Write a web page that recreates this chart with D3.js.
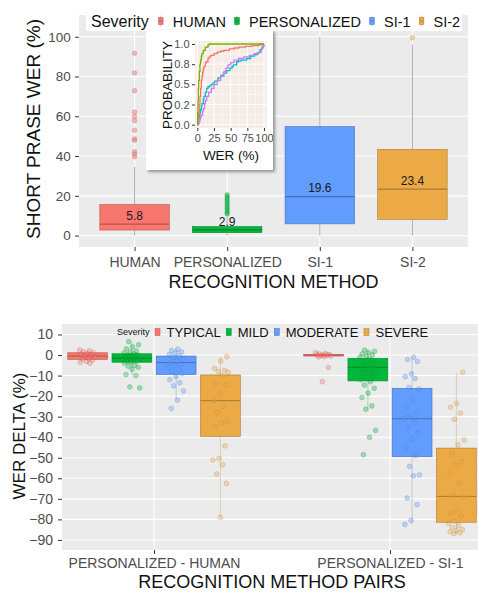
<!DOCTYPE html>
<html>
<head>
<meta charset="utf-8">
<script src="https://cdn.jsdelivr.net/npm/d3@7"></script>
<style>
body{margin:0;background:#fff;}
svg{display:block;font-family:"Liberation Sans",Arial,sans-serif;}
</style>
</head>
<body>
<svg id="chart" width="478" height="593"></svg>
<script>
// ---- top chart data ----
const methods = ["HUMAN", "PERSONALIZED", "SI-1", "SI-2"];
const methodColors = ["#F8766D", "#00B93A", "#619CFF", "#EBAA45"];
const werLow = [0, 0, 0, 0];
const werQ1 = [2.8, 1.5, 5.9, 8.2];
const werMedian = [5.8, 2.9, 19.6, 23.4];
const werQ3 = [15.6, 4.5, 54.8, 43.4];
const werHigh = [34.5, 9.5, 100, 96];
const humanOutliers = [91.7, 81.8, 72.9, 62.1, 59.9, 57.8, 53, 48.6, 47.9, 42.2, 41, 39.6];
const personalizedOutliers = [20.5, 19.5, 18.5, 17.5, 16.5, 15.5, 14.5, 13.5, 12.5, 11.5, 10.9];
const si1Outliers = [];
const si2Outliers = [99.5];
const werTicks = [0, 20, 40, 60, 80, 100];

// ---- inset ecdf data ([WER, probability] steps) ----
const ecdfColors = ["#F8766D", "#7CAE00", "#00BFC4", "#C77CFF"];
const ecdfHuman = [[0,0],[1,0.08],[2,0.15],[3,0.25],[4,0.35],[5,0.45],[6,0.55],[7,0.6],[8,0.65],[9,0.69],[10,0.72],[12,0.76],[13,0.78],[16,0.82],[18,0.84],[20,0.86],[25,0.88],[30,0.9],[35,0.91],[40,0.92],[48,0.94],[55,0.95],[62,0.96],[72,0.97],[82,0.98],[92,0.99],[95,1],[100,1]];
const ecdfPersonalized = [[0,0],[0.5,0.15],[1,0.3],[1.5,0.45],[2,0.55],[3,0.66],[4,0.75],[5,0.8],[6,0.85],[7,0.88],[9,0.92],[12,0.96],[16,0.99],[18,1],[100,1]];
const ecdfSi1 = [[0,0],[1,0.04],[2,0.08],[3,0.12],[4,0.15],[5,0.19],[6,0.23],[7,0.26],[9,0.32],[10,0.35],[12,0.4],[14,0.45],[16,0.47],[18,0.48],[21,0.5],[24,0.52],[26,0.54],[31,0.58],[35,0.61],[39,0.64],[44,0.67],[49,0.7],[52,0.72],[54,0.74],[59,0.78],[62,0.79],[66,0.8],[74,0.82],[80,0.85],[86,0.87],[90,0.89],[94,0.93],[97,0.96],[99,1],[100,1]];
const ecdfSi2 = [[0,0],[2,0.02],[3,0.04],[4,0.07],[5,0.1],[6,0.12],[8,0.17],[9,0.2],[11,0.26],[12,0.3],[14,0.35],[17,0.4],[21,0.45],[25,0.5],[30,0.55],[35,0.6],[40,0.66],[43,0.7],[46,0.74],[50,0.77],[55,0.8],[62,0.82],[70,0.84],[78,0.86],[85,0.88],[92,0.9],[96,0.94],[98,0.97],[100,1]];
const probTicks = [0, 0.25, 0.5, 0.75, 1];
const probLabels = ["0.0", "0.2", "0.5", "0.8", "1.0"];
const insetWerTicks = [0, 25, 50, 75, 100];

// ---- bottom chart data ----
const pairs = ["PERSONALIZED - HUMAN", "PERSONALIZED - SI-1"];
const severities = ["TYPICAL", "MILD", "MODERATE", "SEVERE"];
const severityColors = ["#F8766D", "#00B93A", "#619CFF", "#EBAA45"];
// [pair][severity]
const deltaLow = [[-4, -10, -22, -79], [-1, -26.4, -82.5, -87]];
const deltaQ1 = [[-2.1, -3.5, -9.5, -39.6], [-0.5, -12.6, -49.5, -81.4]];
const deltaMedian = [[-0.5, -1.5, -3.7, -22.2], [0, -6, -31, -68.8]];
const deltaQ3 = [[1.1, 0.6, -0.5, -9.7], [0.3, -1.6, -16.2, -45.3]];
const deltaHigh = [[2.4, 6.5, 2.8, -0.8], [1.2, 2.4, -1.1, -8.4]];
const humanTypical = [2.4, 2, 1.6, 1.2, 0.8, 0.4, 0, -0.5, -1, -1.5, -2, -2.5, -3.2, -3.6, -4];
const humanMild = [6.5, 5, 4, 3, 2, 1.5, 1, 0.5, 0, 0, -0.5, -1, -1, -1.5, -2, -2.5, -3, -3, -3.5, -4, -5, -5.5, -6, -7, -9.5, -10, -15.5, -16];
const humanModerate = [2.8, 2.2, 1.5, 1, 0.3, -0.5, -1, -2, -3, -3.7, -4.5, -5, -6, -7, -8, -9, -10.5, -12, -13.5, -15, -17.5, -22, -26];
const humanSevere = [-0.8, -2.9, -6.5, -7.5, -8, -8.5, -10, -13.7, -14.5, -19, -22, -25, -28, -32.4, -33, -34.8, -44.2, -50.3, -51, -53.4, -57.9, -62.5, -79];
const si1Typical = [1.2, 0.8, 0.5, 0.3, 0, 0, 0, -0.2, -0.5, -0.8, -1, -6.1, -13];
const si1Mild = [2.4, 1.8, 1.2, 0.6, 0, -0.5, -1, -2, -3, -4, -5, -5.5, -6, -6.5, -7, -8, -9, -10, -11, -12, -13, -14.6, -16.2, -18.6, -20.7, -24.8, -26.4, -36.7, -40, -48.5];
const si1Moderate = [-1.1, -2.2, -3.2, -9.2, -10.5, -11.5, -15.7, -16.5, -22, -25, -28, -30, -31, -33, -35, -38, -41, -45, -49, -54.2, -58.3, -58.8, -69.6, -72.8, -80.4, -82.5];
const si1Severe = [-8.4, -23.5, -25.4, -28.3, -31.2, -41.3, -43.7, -48, -52, -53.4, -57.1, -62.3, -68.4, -69, -75.2, -76.8, -78.4, -81, -82, -83, -84, -85, -85.5, -86, -86.5, -87];
const deltaPoints = [[humanTypical, humanMild, humanModerate, humanSevere], [si1Typical, si1Mild, si1Moderate, si1Severe]];
const deltaTicks = [10, 0, -10, -20, -30, -40, -50, -60, -70, -80, -90];

const svg = d3.select("#chart");
const dark = c => d3.color(c).darker(0.9).formatHex();

svg.append("defs").append("filter").attr("id", "shadow")
	.attr("x", "-10%").attr("y", "-10%").attr("width", "130%").attr("height", "130%")
	.append("feDropShadow").attr("dx", 2).attr("dy", 2).attr("stdDeviation", 1.4)
	.attr("flood-color", "#555").attr("flood-opacity", 0.6);
svg.select("defs").append("clipPath").attr("id", "insetClip")
	.append("rect").attr("x", 146).attr("y", 30).attr("width", 127).attr("height", 140);

function styleAxis(g, size) {
	g.select(".domain").remove();
	g.selectAll(".tick line").attr("stroke", "#333").attr("stroke-width", 1);
	g.selectAll(".tick text").attr("fill", "#4d4d4d").style("font-size", size + "px").attr("font-family", null);
}

// ================= TOP CHART =================
const pTop = {left: 79, right: 468, top: 15, bottom: 247};
const xTop = d3.scalePoint().domain(methods).range([pTop.left, pTop.right]).padding(0.6);
const yTop = d3.scaleLinear().domain([-5.73, 110.94]).range([pTop.bottom, pTop.top]);
const bwTop = xTop.step() * 0.75;

const gTop = svg.append("g");
gTop.append("rect").attr("x", pTop.left).attr("y", pTop.top)
	.attr("width", pTop.right - pTop.left).attr("height", pTop.bottom - pTop.top).attr("fill", "#EBEBEB");
gTop.selectAll(".hgrid").data(werTicks).enter().append("line")
	.attr("x1", pTop.left).attr("x2", pTop.right)
	.attr("y1", d => yTop(d)).attr("y2", d => yTop(d))
	.attr("stroke", "#fff").attr("stroke-width", 1.1);
gTop.selectAll(".vgrid").data(methods).enter().append("line")
	.attr("x1", d => xTop(d)).attr("x2", d => xTop(d))
	.attr("y1", pTop.top).attr("y2", pTop.bottom)
	.attr("stroke", "#fff").attr("stroke-width", 1.1);

const topBoxes = gTop.selectAll(".box").data(methods).enter().append("g");
topBoxes.append("line")
	.attr("x1", d => xTop(d)).attr("x2", d => xTop(d))
	.attr("y1", (d, i) => yTop(werQ3[i])).attr("y2", (d, i) => yTop(werHigh[i]))
	.attr("stroke", "#a6a6a6").attr("stroke-width", 0.9);
topBoxes.append("line")
	.attr("x1", d => xTop(d)).attr("x2", d => xTop(d))
	.attr("y1", (d, i) => yTop(werQ1[i])).attr("y2", (d, i) => yTop(werLow[i]))
	.attr("stroke", "#a6a6a6").attr("stroke-width", 0.9);
topBoxes.append("rect")
	.attr("x", d => xTop(d) - bwTop / 2).attr("width", bwTop)
	.attr("y", (d, i) => yTop(werQ3[i]))
	.attr("height", (d, i) => yTop(werQ1[i]) - yTop(werQ3[i]))
	.attr("fill", (d, i) => methodColors[i])
	.attr("stroke", (d, i) => dark(methodColors[i])).attr("stroke-width", 0.6);
topBoxes.append("line")
	.attr("x1", d => xTop(d) - bwTop / 2).attr("x2", d => xTop(d) + bwTop / 2)
	.attr("y1", (d, i) => yTop(werMedian[i])).attr("y2", (d, i) => yTop(werMedian[i]))
	.attr("stroke", (d, i) => dark(methodColors[i])).attr("stroke-width", 1.2);

const topOutliers = [humanOutliers, personalizedOutliers, si1Outliers, si2Outliers];
topOutliers.forEach((vals, i) => {
	gTop.selectAll(".out" + i).data(vals).enter().append("circle")
		.attr("cx", xTop(methods[i])).attr("cy", d => yTop(d)).attr("r", 2.3)
		.attr("fill", methodColors[i]).attr("fill-opacity", 0.5)
		.attr("stroke", dark(methodColors[i])).attr("stroke-opacity", 0.4).attr("stroke-width", 0.6);
});

topBoxes.append("text")
	.attr("x", d => xTop(d)).attr("y", (d, i) => yTop(werMedian[i]) - 8.5)
	.attr("dy", "0.35em").attr("text-anchor", "middle")
	.style("font-size", "12px").attr("fill", "#1a1a1a")
	.text((d, i) => werMedian[i].toFixed(1));

gTop.append("g").attr("transform", "translate(" + pTop.left + ",0)")
	.call(d3.axisLeft(yTop).tickValues(werTicks).tickSize(4).tickPadding(4.3))
	.call(g => styleAxis(g, 13.5));
gTop.append("g").attr("transform", "translate(0," + pTop.bottom + ")")
	.call(d3.axisBottom(xTop).tickSize(4).tickPadding(5.6))
	.call(g => styleAxis(g, 14));

gTop.append("text").attr("transform", "translate(40,129) rotate(-90)")
	.attr("text-anchor", "middle").style("font-size", "19px").attr("fill", "#111")
	.text("SHORT PRASE WER (%)");
gTop.append("text").attr("x", (pTop.left + pTop.right) / 2).attr("y", 288)
	.attr("text-anchor", "middle").style("font-size", "18px").attr("fill", "#111")
	.text("RECOGNITION METHOD");

// top legend
const legTop = gTop.append("g");
legTop.append("rect").attr("x", 86).attr("y", pTop.top).attr("width", 376).attr("height", 16).attr("fill", "#fff");
const legTitle = legTop.append("text").attr("x", 91).attr("y", 26.5)
	.style("font-size", "16px").attr("fill", "#111").text("Severity");
let lx = 91 + legTitle.node().getComputedTextLength() + 12;
methods.forEach((m, i) => {
	legTop.append("line").attr("x1", lx).attr("x2", lx).attr("y1", 15.5).attr("y2", 26.5)
		.attr("stroke", "#bbb").attr("stroke-width", 0.8);
	legTop.append("rect").attr("x", lx - 2.3).attr("y", 17.5).attr("width", 4.6).attr("height", 7)
		.attr("fill", methodColors[i]).attr("stroke", dark(methodColors[i])).attr("stroke-width", 0.5);
	legTop.append("line").attr("x1", lx - 2.3).attr("x2", lx + 2.3).attr("y1", 21).attr("y2", 21)
		.attr("stroke", dark(methodColors[i])).attr("stroke-width", 0.6);
	const t = legTop.append("text").attr("x", lx + 12).attr("y", 26.5)
		.style("font-size", "14.5px").attr("fill", "#111").text(m);
	lx = lx + 12 + t.node().getComputedTextLength() + 11;
});

// inset ECDF
const inset = svg.append("g");
inset.append("rect").attr("x", 146).attr("y", 30).attr("width", 127).attr("height", 140)
	.attr("fill", "#fff").attr("filter", "url(#shadow)");
const gIn = inset.append("g").attr("clip-path", "url(#insetClip)");
const pin = {left: 195, right: 267, top: 41, bottom: 128};
const xIn = d3.scaleLinear().domain([-3.45, 104.5]).range([pin.left, pin.right]);
const yIn = d3.scaleLinear().domain([-0.041, 1.037]).range([pin.bottom, pin.top]);
gIn.append("rect").attr("x", pin.left).attr("y", pin.top)
	.attr("width", pin.right - pin.left).attr("height", pin.bottom - pin.top).attr("fill", "#F5ECE6");
const minorX = [12.5, 37.5, 62.5, 87.5];
const minorY = [0.125, 0.375, 0.625, 0.875];
gIn.selectAll(".mx").data(minorX).enter().append("line")
	.attr("x1", d => xIn(d)).attr("x2", d => xIn(d)).attr("y1", pin.top).attr("y2", pin.bottom)
	.attr("stroke", "#fff").attr("stroke-width", 0.5);
gIn.selectAll(".my").data(minorY).enter().append("line")
	.attr("y1", d => yIn(d)).attr("y2", d => yIn(d)).attr("x1", pin.left).attr("x2", pin.right)
	.attr("stroke", "#fff").attr("stroke-width", 0.5);
gIn.selectAll(".gx").data(insetWerTicks).enter().append("line")
	.attr("x1", d => xIn(d)).attr("x2", d => xIn(d)).attr("y1", pin.top).attr("y2", pin.bottom)
	.attr("stroke", "#fff").attr("stroke-width", 1);
gIn.selectAll(".gy").data(probTicks).enter().append("line")
	.attr("y1", d => yIn(d)).attr("y2", d => yIn(d)).attr("x1", pin.left).attr("x2", pin.right)
	.attr("stroke", "#fff").attr("stroke-width", 1);

const ecdfLine = d3.line().x(d => xIn(d[0])).y(d => yIn(d[1])).curve(d3.curveStepAfter);
[ecdfSi1, ecdfSi2, ecdfHuman, ecdfPersonalized].forEach((s, k) => {
	const ci = [2, 3, 0, 1][k];
	gIn.append("path").datum(s).attr("d", ecdfLine)
		.attr("fill", "none").attr("stroke", ecdfColors[ci]).attr("stroke-width", 1.3);
});

gIn.append("g").attr("transform", "translate(" + pin.left + ",0)")
	.call(d3.axisLeft(yIn).tickValues(probTicks).tickFormat((d, i) => probLabels[i]).tickSize(3).tickPadding(2.5))
	.call(g => styleAxis(g, 11));
gIn.append("g").attr("transform", "translate(0," + pin.bottom + ")")
	.call(d3.axisBottom(xIn).tickValues(insetWerTicks).tickSize(3).tickPadding(3))
	.call(g => styleAxis(g, 11));
gIn.append("text").attr("transform", "translate(172,85) rotate(-90)")
	.attr("text-anchor", "middle").style("font-size", "13.4px").attr("fill", "#111").text("PROBABILITY");
gIn.append("text").attr("x", 231).attr("y", 159.5)
	.attr("text-anchor", "middle").style("font-size", "13.5px").attr("fill", "#111").text("WER (%)");

// ================= BOTTOM CHART =================
const pBot = {left: 62, right: 482, top: 324, bottom: 550};
const xBot = d3.scalePoint().domain(pairs).range([pBot.left, pBot.right]).padding(0.39);
const yBot = d3.scaleLinear().domain([15.1, -94.9]).range([pBot.top, pBot.bottom]);
const dodge = d3.scaleBand().domain(severities)
	.range([-xBot.step() * 0.375, xBot.step() * 0.375]).paddingInner(0.1).paddingOuter(0.05);
const bwBot = dodge.bandwidth();

const gBot = svg.append("g");
gBot.append("rect").attr("x", pBot.left).attr("y", pBot.top)
	.attr("width", pBot.right - pBot.left).attr("height", pBot.bottom - pBot.top).attr("fill", "#EBEBEB");
gBot.selectAll(".hgrid").data(deltaTicks).enter().append("line")
	.attr("x1", pBot.left).attr("x2", pBot.right)
	.attr("y1", d => yBot(d)).attr("y2", d => yBot(d))
	.attr("stroke", "#fff").attr("stroke-width", 1.1);
gBot.selectAll(".vgrid").data(pairs).enter().append("line")
	.attr("x1", d => xBot(d)).attr("x2", d => xBot(d))
	.attr("y1", pBot.top).attr("y2", pBot.bottom)
	.attr("stroke", "#fff").attr("stroke-width", 1.1);

pairs.forEach((p, pi) => {
	severities.forEach((s, si) => {
		const cx = xBot(p) + dodge(s) + bwBot / 2;
		const col = severityColors[si];
		const g = gBot.append("g");
		g.append("line").attr("x1", cx).attr("x2", cx)
			.attr("y1", yBot(deltaHigh[pi][si])).attr("y2", yBot(deltaLow[pi][si]))
			.attr("stroke", dark(col)).attr("stroke-opacity", 0.35).attr("stroke-width", 0.8);
		g.append("rect").attr("x", cx - bwBot / 2).attr("width", bwBot)
			.attr("y", yBot(deltaQ3[pi][si]))
			.attr("height", Math.max(yBot(deltaQ1[pi][si]) - yBot(deltaQ3[pi][si]), 1.2))
			.attr("fill", col).attr("stroke", dark(col)).attr("stroke-width", 0.6);
		g.append("line").attr("x1", cx - bwBot / 2).attr("x2", cx + bwBot / 2)
			.attr("y1", yBot(deltaMedian[pi][si])).attr("y2", yBot(deltaMedian[pi][si]))
			.attr("stroke", dark(col)).attr("stroke-width", 1);
	});
});

pairs.forEach((p, pi) => {
	severities.forEach((s, si) => {
		const cx = xBot(p) + dodge(s) + bwBot / 2;
		const col = severityColors[si];
		gBot.selectAll(".pt" + pi + si).data(deltaPoints[pi][si]).enter().append("circle")
			.attr("cx", (d, i) => cx + (((i * 0.618034 + si * 0.3) % 1) - 0.5) * 16)
			.attr("cy", d => yBot(d)).attr("r", 2.4)
			.attr("fill", col).attr("fill-opacity", 0.35)
			.attr("stroke", dark(col)).attr("stroke-opacity", 0.4).attr("stroke-width", 0.6);
	});
});

gBot.append("g").attr("transform", "translate(" + pBot.left + ",0)")
	.call(d3.axisLeft(yBot).tickValues(deltaTicks).tickSize(4).tickPadding(5))
	.call(g => styleAxis(g, 14));
gBot.append("g").attr("transform", "translate(0," + pBot.bottom + ")")
	.call(d3.axisBottom(xBot).tickSize(4).tickPadding(4))
	.call(g => styleAxis(g, 14));

gBot.append("text").attr("transform", "translate(25,436) rotate(-90)")
	.attr("text-anchor", "middle").style("font-size", "17px").attr("fill", "#111")
	.text("WER DELTA (%)");
gBot.append("text").attr("x", 272).attr("y", 588)
	.attr("text-anchor", "middle").style("font-size", "18px").attr("fill", "#111")
	.text("RECOGNITION METHOD PAIRS");

// bottom legend
const legBot = gBot.append("g");
const legTitle2 = legBot.append("text").attr("x", 117).attr("y", 335.3)
	.style("font-size", "9px").attr("fill", "#111").text("Severity");
let bx = 117 + legTitle2.node().getComputedTextLength() + 8;
severities.forEach((s, i) => {
	legBot.append("rect").attr("x", bx - 2.5).attr("y", 328.5).attr("width", 5).attr("height", 7)
		.attr("fill", severityColors[i]).attr("stroke", dark(severityColors[i])).attr("stroke-width", 0.5);
	const t = legBot.append("text").attr("x", bx + 9).attr("y", 336.6)
		.style("font-size", "13px").attr("fill", "#111").text(s);
	bx = bx + 9 + t.node().getComputedTextLength() + 8;
});
</script>
</body>
</html>
